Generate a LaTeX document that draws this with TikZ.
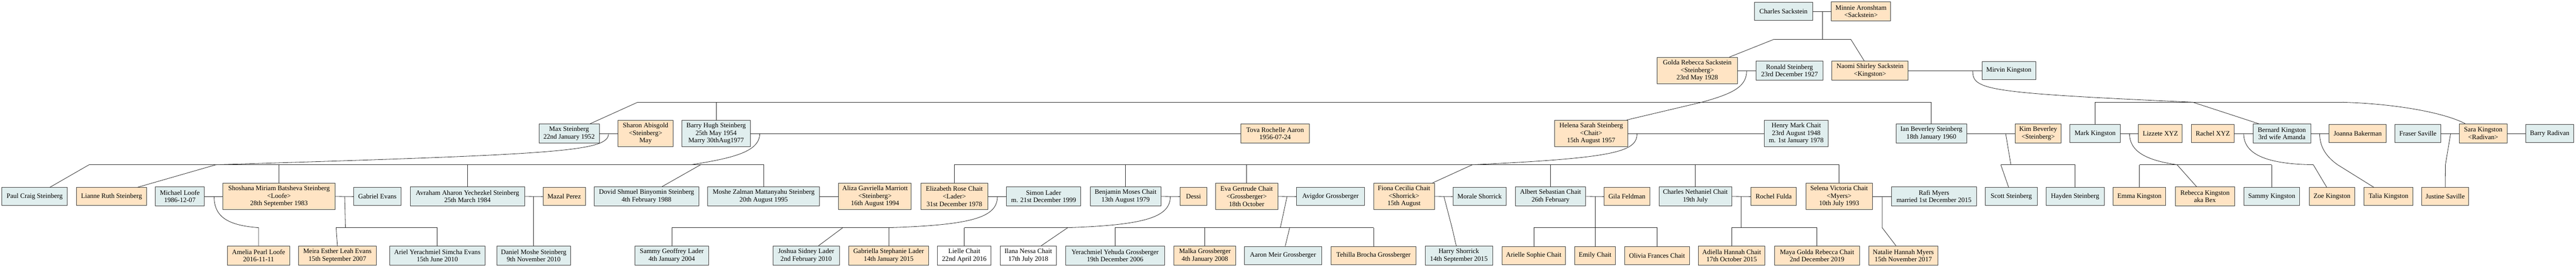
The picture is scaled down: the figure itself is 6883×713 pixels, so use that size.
\documentclass[tikz,border=0pt]{standalone}
\usepackage{fontspec}
\setmainfont{Liberation Serif}
\definecolor{mblue}{HTML}{E0EEEE}
\definecolor{forange}{HTML}{FFE4C4}
\tikzset{
  person/.style={draw=black!75, line width=1.3pt, inner sep=0pt, align=center,
                 font=\fontsize{18}{20}\selectfont},
  link/.style={draw=black!85, line width=1.1pt}
}
\newcommand{\pn}[7]{\node[person, fill=#2, minimum width={#4-#3}, minimum height={#6-#5}] (#1) at ({(#3+#4)/2},{(#5+#6)/2}) {#7};}
\begin{document}
\begin{tikzpicture}[x=1pt,y=-1pt]
\useasboundingbox[fill=white] (0,0) rectangle (6883,713);
% ---------- row 0
\pn{charles}{mblue}{4688}{4843}{6}{55}{Charles Sackstein}
\pn{minnie}{forange}{4893}{5052}{5}{56}{Minnie Aronshtam\\<Sackstein>}
% ---------- row 1
\pn{golda}{forange}{4428}{4642}{153}{224}{Golda Rebecca Sackstein\\<Steinberg>\\23rd May 1928}
\pn{ronald}{mblue}{4692}{4871}{163}{214}{Ronald Steinberg\\23rd December 1927}
\pn{naomi}{forange}{4895}{5098}{163}{214}{Naomi Shirley Sackstein\\<Kingston>}
\pn{mirvin}{mblue}{5296}{5439}{165}{212}{Mirvin Kingston}
% ---------- row 2
\pn{max}{mblue}{1440}{1601}{331}{382}{Max Steinberg\\22nd January 1952}
\pn{sharon}{forange}{1651}{1799}{321}{392}{Sharon Abisgold\\<Steinberg>\\May}
\pn{barry}{mblue}{1822}{2005}{321}{392}{Barry Hugh Steinberg\\25th May 1954\\Marry 30thAug1977}
\pn{tova}{forange}{3315}{3499}{331}{382}{Tova Rochelle Aaron\\1956-07-24}
\pn{helena}{forange}{4154}{4349}{321}{392}{Helena Sarah Steinberg\\<Chait>\\15th August 1957}
\pn{henry}{mblue}{4714}{4885}{321}{392}{Henry Mark Chait\\23rd August 1948\\m. 1st January 1978}
\pn{ian}{mblue}{5066}{5255}{331}{382}{Ian Beverley Steinberg\\18th January 1960}
\pn{kim}{forange}{5385}{5507}{331}{382}{Kim Beverley\\<Steinberg>}
\pn{mark}{mblue}{5531}{5665}{333}{380}{Mark Kingston}
\pn{lizzete}{forange}{5714}{5831}{333}{380}{Lizzete XYZ}
\pn{rachel}{forange}{5855}{5970}{333}{380}{Rachel XYZ}
\pn{bernard}{mblue}{6020}{6174}{331}{382}{Bernard Kingston\\3rd wife Amanda}
\pn{joanna}{forange}{6223}{6376}{333}{380}{Joanna Bakerman}
\pn{fraser}{mblue}{6399}{6522}{333}{380}{Fraser Saville}
\pn{sara}{forange}{6571}{6699}{331}{382}{Sara Kingston\\<Radivan>}
\pn{barryr}{mblue}{6748}{6877}{333}{380}{Barry Radivan}
% ---------- row 3
\pn{paul}{mblue}{5}{180}{501}{549}{Paul Craig Steinberg}
\pn{lianne}{forange}{205}{391}{501}{549}{Lianne Ruth Steinberg}
\pn{michael}{mblue}{415}{546}{499}{550}{Michael Loofe\\1986-12-07}
\pn{shoshana}{forange}{596}{895}{489}{560}{Shoshana Miriam Batsheva Steinberg\\<Loofe>\\28th September 1983}
\pn{gabriel}{mblue}{945}{1072}{501}{549}{Gabriel Evans}
\pn{avraham}{mblue}{1096}{1402}{499}{550}{Avraham Aharon Yechezkel Steinberg\\25th March 1984}
\pn{mazal}{forange}{1451}{1564}{501}{549}{Mazal Perez}
\pn{dovid}{mblue}{1588}{1867}{499}{550}{Dovid Shmuel Binyomin Steinberg\\4th February 1988}
\pn{moshe}{mblue}{1891}{2190}{499}{550}{Moshe Zalman Mattanyahu Steinberg\\20th August 1995}
\pn{aliza}{forange}{2241}{2435}{489}{560}{Aliza Gavriella Marriott\\<Steinberg>\\16th August 1994}
\pn{elizabeth}{forange}{2460}{2640}{489}{560}{Elizabeth Rose Chait\\<Lader>\\31st December 1978}
\pn{simon}{mblue}{2689}{2888}{499}{550}{Simon Lader\\m. 21st December 1999}
\pn{benjamin}{mblue}{2913}{3102}{499}{550}{Benjamin Moses Chait\\13th August 1979}
\pn{dessi}{forange}{3153}{3225}{501}{549}{Dessi}
\pn{eva}{forange}{3248}{3414}{489}{560}{Eva Gertrude Chait\\<Grossberger>\\18th October}
\pn{avigdor}{mblue}{3464}{3646}{501}{549}{Avigdor Grossberger}
\pn{fiona}{forange}{3670}{3833}{489}{560}{Fiona Cecilia Chait\\<Shorrick>\\15th August}
\pn{morale}{mblue}{3882}{4025}{501}{549}{Morale Shorrick}
\pn{albert}{mblue}{4049}{4237}{499}{550}{Albert Sebastian Chait\\26th February}
\pn{gila}{forange}{4286}{4408}{501}{549}{Gila Feldman}
\pn{charlesn}{mblue}{4433}{4627}{499}{550}{Charles Nethaniel Chait\\19th July}
\pn{rochel}{forange}{4678}{4800}{501}{549}{Rochel Fulda}
\pn{selena}{forange}{4825}{5003}{489}{560}{Selena Victoria Chait\\<Myers>\\10th July 1993}
\pn{rafi}{mblue}{5054}{5281}{499}{550}{Rafi Myers\\married 1st December 2015}
\pn{scott}{mblue}{5305}{5443}{501}{549}{Scott Steinberg}
\pn{hayden}{mblue}{5467}{5622}{501}{549}{Hayden Steinberg}
\pn{emma}{forange}{5646}{5787}{501}{549}{Emma Kingston}
\pn{rebecca}{forange}{5812}{5971}{499}{550}{Rebecca Kingston\\aka Bex}
\pn{sammyk}{mblue}{5995}{6145}{501}{549}{Sammy Kingston}
\pn{zoe}{forange}{6170}{6292}{501}{549}{Zoe Kingston}
\pn{talia}{forange}{6317}{6447}{501}{549}{Talia Kingston}
\pn{justine}{forange}{6471}{6596}{501}{549}{Justine Saville}
% ---------- row 4
\pn{amelia}{forange}{608}{774}{657}{708}{Amelia Pearl Loofe\\2016-11-11}
\pn{meira}{forange}{798}{1005}{657}{708}{Meira Esther Leah Evans\\15th September 2007}
\pn{ariel}{mblue}{1041}{1296}{657}{708}{Ariel Yerachmiel Simcha Evans\\15th June 2010}
\pn{daniel}{mblue}{1327}{1525}{657}{708}{Daniel Moshe Steinberg\\9th November 2010}
\pn{sammyl}{mblue}{1696}{1894}{657}{708}{Sammy Geoffrey Lader\\4th January 2004}
\pn{joshua}{mblue}{2065}{2243}{657}{708}{Joshua Sidney Lader\\2nd February 2010}
\pn{gabriella}{forange}{2268}{2481}{657}{708}{Gabriella Stephanie Lader\\14th January 2015}
\pn{lielle}{white}{2505}{2648}{657}{708}{Lielle Chait\\22nd April 2016}
\pn{ilana}{white}{2672}{2823}{657}{708}{Ilana Nessa Chait\\17th July 2018}
\pn{yerachmiel}{mblue}{2847}{3112}{657}{708}{Yerachmiel Yehuda Grossberger\\19th December 2006}
\pn{malka}{forange}{3137}{3302}{657}{708}{Malka Grossberger\\4th January 2008}
\pn{aaron}{mblue}{3325}{3531}{658}{707}{Aaron Meir Grossberger}
\pn{tehilla}{forange}{3556}{3784}{658}{707}{Tehilla Brocha Grossberger}
\pn{harry}{mblue}{3808}{3988}{657}{708}{Harry Shorrick\\14th September 2015}
\pn{arielle}{forange}{4013}{4183}{658}{707}{Arielle Sophie Chait}
\pn{emily}{forange}{4208}{4316}{658}{707}{Emily Chait}
\pn{olivia}{forange}{4341}{4514}{658}{707}{Olivia Frances Chait}
\pn{adiella}{forange}{4538}{4716}{657}{708}{Adiella Hannah Chait\\17th October 2015}
\pn{maya}{forange}{4741}{4969}{657}{708}{Maya Golda Rebecca Chait\\2nd December 2019}
\pn{natalie}{forange}{4993}{5178}{657}{708}{Natalie Hannah Myers\\15th November 2017}

% ================= connectors
% Charles + Minnie
\coordinate (jCM) at (4869,30.5);
\coordinate (dCM) at (4869,104.6);
\coordinate (bCMl) at (4741,104.6);
\coordinate (bCMr) at (4945,104.6);
\draw[link] (charles.east) -- (minnie.west);
\draw[link] (jCM) -- (dCM);
\draw[link] (bCMl) -- (bCMr);
\draw[link] (bCMl) -- ([xshift=86pt]golda.north);
\draw[link] (bCMr) -- ([xshift=-15.5pt]naomi.north);
% Golda + Ronald
\coordinate (jGR) at (4667,188.5);
\coordinate (cGR) at (4547,273);
\coordinate (bGRl) at (1704,273);
\coordinate (bGRr) at (5161,273);
\draw[link] (golda.east) -- (ronald.west);
\draw[link] (jGR) .. controls (4667,232) and (4630,250) .. (cGR);
\draw[link] (cGR) -- ([xshift=-3pt]helena.north east);
\draw[link] (bGRl) -- (bGRr);
\draw[link] (bGRl) -- ([xshift=56.5pt]max.north);
\draw[link] (barry.north) -- (barry.north |- bGRl);
\draw[link] (ian.north) -- (ian.north |- bGRr);
% Naomi + Mirvin
\coordinate (jNM) at (5271,188.5);
\coordinate (cNM) at (5859,273);
\coordinate (bNMl) at (5598,273);
\coordinate (bNMr) at (6259,273);
\draw[link] (naomi.east) -- (mirvin.west);
\draw[link] (jNM) .. controls (5271,240) and (5300,248) .. (cNM);
\draw[link] (cNM) -- ([xshift=-62pt]bernard.north);
\draw[link] (bNMl) -- (bNMr);
\draw[link] (mark.north) -- (mark.north |- bNMl);
\draw[link] (bNMr) .. controls (6420,278) and (6540,305) .. ([xshift=-48pt]sara.north);
% Max + Sharon
\coordinate (jMS) at (1626,356.5);
\coordinate (cMS) at (577,440);
\coordinate (bMSl) at (238,440);
\coordinate (bMSr) at (2041,440);
\draw[link] (max.east) -- (sharon.west);
\draw[link] (jMS) .. controls (1626,405) and (1500,412) .. (cMS);
\draw[link] (bMSl) -- (bMSr);
\draw[link] (bMSl) -- ([xshift=40.5pt]paul.north);
\draw[link] (cMS) -- ([xshift=69pt]lianne.north);
\draw[link] (shoshana.north) -- (shoshana.north |- bMSl);
\draw[link] (avraham.north) -- (avraham.north |- bMSl);
% Barry + Tova
\coordinate (jBT) at (2030,356.5);
\coordinate (cBT) at (1846,440);
\coordinate (pDov) at (1872,440);
\draw[link] (barry.east) -- (tova.west);
\draw[link] (jBT) .. controls (2030,405) and (1960,422) .. (cBT);
\draw[link] (pDov) -- ([xshift=41.5pt]dovid.north);
\draw[link] (moshe.north) -- (moshe.north |- bMSr);
% Helena + Henry
\coordinate (jHH) at (4374,356.5);
\coordinate (cHH) at (3934,440);
\coordinate (bHHl) at (2550,440);
\coordinate (bHHr) at (4914,440);
\draw[link] (helena.east) -- (henry.west);
\draw[link] (jHH) .. controls (4374,405) and (4320,422) .. (cHH);
\draw[link] (bHHl) -- (bHHr);
\draw[link] (cHH) -- ([xshift=76.5pt]fiona.north);
\foreach \c in {elizabeth,benjamin,eva,albert,charlesn,selena}
  \draw[link] (\c.north) -- (\c.north |- bHHl);
% Ian + Kim
\coordinate (jIK) at (5359,356.5);
\coordinate (cIK) at (5373,440);
\coordinate (bIKl) at (5346,440);
\coordinate (bIKr) at (5545,440);
\draw[link] (ian.east) -- (kim.west);
\draw[link] (jIK) -- (cIK);
\draw[link] (bIKl) -- (bIKr);
\draw[link] (bIKl) -- ([xshift=-7pt]scott.north);
\draw[link] (hayden.north) -- (hayden.north |- bIKr);
% Mark + Lizzete
\coordinate (jML) at (5690,356.5);
\coordinate (cML) at (5817,440);
\coordinate (bMLl) at (5717,440);
\coordinate (bMLr) at (6070,440);
\draw[link] (mark.east) -- (lizzete.west);
\draw[link] (jML) .. controls (5690,405) and (5735,428) .. (cML);
\draw[link] (bMLl) -- (bMLr);
\draw[link] (emma.north) -- (emma.north |- bMLl);
\draw[link] (cML) -- ([xshift=-22.5pt]rebecca.north);
\draw[link] (sammyk.north) -- (sammyk.north |- bMLr);
% Rachel + Bernard
\coordinate (jRB) at (5995,356.5);
\coordinate (cRB) at (6181,440);
\draw[link] (rachel.east) -- (bernard.west);
\draw[link] (jRB) .. controls (5995,405) and (6040,438) .. (cRB);
\draw[link] (cRB) -- ([xshift=-14pt]zoe.north);
% Bernard + Joanna
\coordinate (jBJ) at (6198,356.5);
\coordinate (cBJ) at (6246,440);
\draw[link] (bernard.east) -- (joanna.west);
\draw[link] (jBJ) .. controls (6198,392) and (6215,418) .. (cBJ);
\draw[link] (cBJ) -- ([xshift=-39pt]talia.north);
% Fraser + Sara
\coordinate (jFS) at (6548,356.5);
\coordinate (cFS) at (6534,440);
\draw[link] (fraser.east) -- (sara.west);
\draw[link] (jFS) -- (cFS) -- (justine.north);
\draw[link] (sara.east) -- (barryr.west);
% Michael + Shoshana
\coordinate (jMiS) at (572,524.5);
\coordinate (cMiS) at (691,608);
\draw[link] (michael.east) -- (shoshana.west);
\draw[link] (jMiS) .. controls (572,580) and (610,602) .. (cMiS) -- (amelia.north);
% Shoshana + Gabriel
\coordinate (jSG) at (921,524.5);
\coordinate (cSG) at (923,608);
\coordinate (bSGl) at (898,608);
\coordinate (bSGr) at (1169,608);
\draw[link] (shoshana.east) -- (gabriel.west);
\draw[link] (jSG) -- (cSG);
\draw[link] (bSGl) -- (bSGr);
\draw[link] (bSGl) -- (meira.north);
\draw[link] (ariel.north) -- (ariel.north |- bSGr);
% Avraham + Mazal
\coordinate (jAM) at (1426,524.5);
\draw[link] (avraham.east) -- (mazal.west);
\draw[link] (jAM) -- (daniel.north);
% Moshe + Aliza
\draw[link] (moshe.east) -- (aliza.west);
% Elizabeth + Simon
\coordinate (jES) at (2665,524.5);
\coordinate (cES) at (2374,608);
\coordinate (bESl) at (1795,608);
\coordinate (pJos) at (2252,608);
\draw[link] (elizabeth.east) -- (simon.west);
\draw[link] (jES) .. controls (2665,580) and (2600,601) .. (cES);
\draw[link] (bESl) -- (cES);
\draw[link] (sammyl.north) -- (sammyl.north |- bESl);
\draw[link] (pJos) -- ([xshift=33pt]joshua.north);
\draw[link] (gabriella.north) -- (gabriella.north |- cES);
% Benjamin + Dessi
\coordinate (jBD) at (3127,524.5);
\coordinate (cBD) at (2853,608);
\coordinate (bBDl) at (2577,608);
\draw[link] (benjamin.east) -- (dessi.west);
\draw[link] (jBD) .. controls (3127,580) and (3060,601) .. (cBD);
\draw[link] (bBDl) -- (cBD);
\draw[link] (lielle.north) -- (lielle.north |- bBDl);
\draw[link] (cBD) -- ([xshift=34.5pt]ilana.north);
% Eva + Avigdor
\coordinate (jEA) at (3439,524.5);
\coordinate (cEA) at (3421,608);
\coordinate (bEAl) at (2979,608);
\coordinate (bEAr) at (3670,608);
\coordinate (pAar) at (3446,608);
\draw[link] (eva.east) -- (avigdor.west);
\draw[link] (jEA) -- (cEA);
\draw[link] (bEAl) -- (bEAr);
\draw[link] (yerachmiel.north) -- (yerachmiel.north |- bEAl);
\draw[link] (malka.north) -- (malka.north |- bEAl);
\draw[link] (pAar) -- ([xshift=6pt]aaron.north);
\draw[link] (tehilla.north) -- (tehilla.north |- bEAr);
% Fiona + Morale
\coordinate (jFM) at (3858,524.5);
\coordinate (cFM) at (3880,609);
\draw[link] (fiona.east) -- (morale.west);
\draw[link] (jFM) -- (cFM) -- ([xshift=-7pt]harry.north);
% Albert + Gila
\coordinate (jAG) at (4262,524.5);
\coordinate (bAGl) at (4098,608);
\coordinate (bAGr) at (4428,608);
\draw[link] (albert.east) -- (gila.west);
\draw[link] (jAG) -- (emily.north);
\draw[link] (bAGl) -- (bAGr);
\draw[link] (arielle.north) -- (arielle.north |- bAGl);
\draw[link] (olivia.north) -- (olivia.north |- bAGr);
% Charles N + Rochel
\coordinate (jCR) at (4652,524.5);
\coordinate (cCR) at (4652,608);
\coordinate (bCRl) at (4627,608);
\coordinate (bCRr) at (4855,608);
\draw[link] (charlesn.east) -- (rochel.west);
\draw[link] (jCR) -- (cCR);
\draw[link] (bCRl) -- (bCRr);
\draw[link] (adiella.north) -- (adiella.north |- bCRl);
\draw[link] (maya.north) -- (maya.north |- bCRr);
% Selena + Rafi
\coordinate (jSR) at (5029,524.5);
\coordinate (cSR) at (5029,608);
\draw[link] (selena.east) -- (rafi.west);
\draw[link] (jSR) -- (cSR) -- ([xshift=-19.5pt]natalie.north);
\end{tikzpicture}
\end{document}
